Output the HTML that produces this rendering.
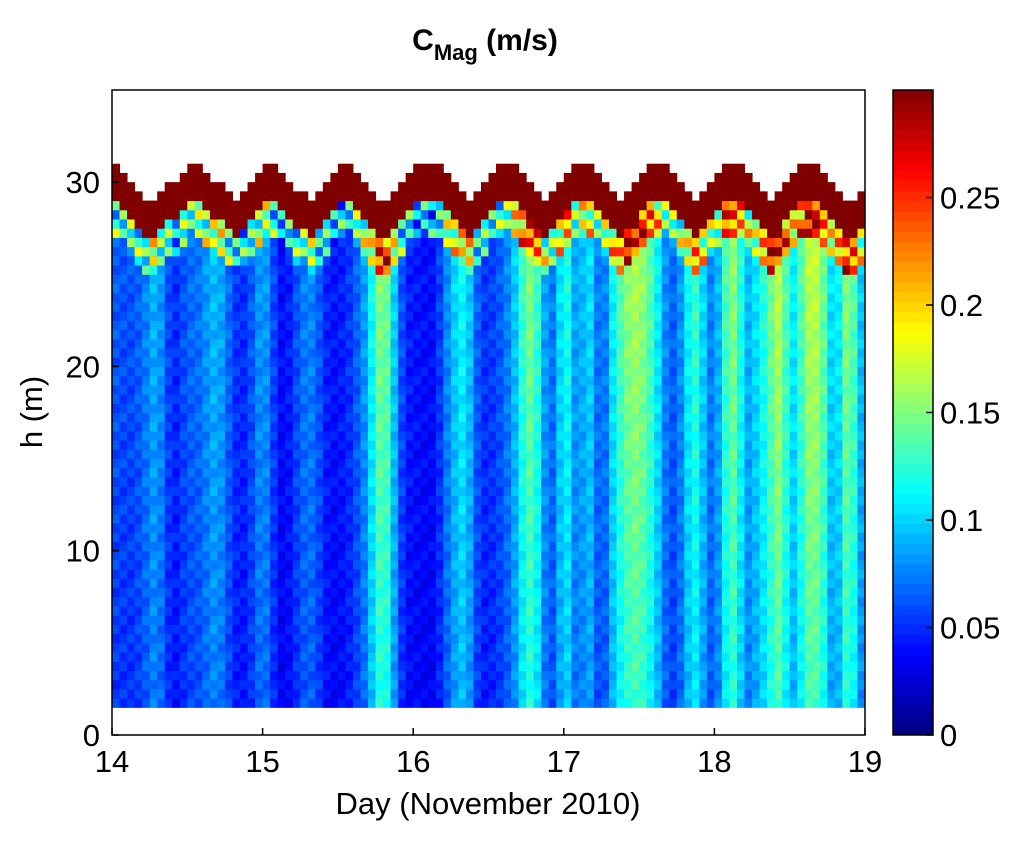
<!DOCTYPE html>
<html><head><meta charset="utf-8"><style>
body{margin:0;background:#fff;}
text{font-family:"Liberation Sans",sans-serif;}
</style></head><body>
<svg id="chart" width="1024" height="837" xmlns="http://www.w3.org/2000/svg">
<rect width="1024" height="837" fill="#fff"/>
<g id="heat"></g>
<rect x="112" y="90" width="753" height="645" fill="none" stroke="#000" stroke-width="1.5"/>
<g id="axes"></g>
<g id="cbar"></g>
<text x="485" y="50" font-size="30" font-weight="bold" text-anchor="middle">C<tspan font-size="22" dy="10">Mag</tspan><tspan dy="-10"> (m/s)</tspan></text>
<text x="488" y="814" font-size="31" text-anchor="middle">Day (November 2010)</text>
<text x="42" y="412" font-size="31" text-anchor="middle" transform="rotate(-90 42 412)">h (m)</text>
</svg>
<script>
const colValues=[.05,.05,.04,.06,.05,.09,.07,.04,.03,.05,
.06,.05,.07,.08,.08,.05,.04,.03,.05,.07,
.08,.04,.02,.03,.05,.06,.07,.05,.03,.03,
.03,.04,.05,.07,.09,.15,.14,.08,.04,.03,
.03,.03,.02,.04,.07,.08,.11,.09,.04,.04,
.04,.05,.06,.08,.11,.15,.12,.06,.05,.08,
.15,.03,.08,.12,.03,.06,.1,.12,.14,.15,
.14,.12,.1,.06,.04,.07,.09,.14,.08,.05,
.07,.12,.16,.1,.06,.09,.12,.1,.2,.1,
.08,.12,.16,.15,.14,.08,.06,.18,.12,.07];
const surface=[30.8,30.4,30,29.6,29.2,29,29.4,29.8,30.2,30.7,
31.2,31,30.6,30.2,29.8,29.4,29,29.4,29.8,30.3,
30.8,31.2,30.7,30.2,29.7,29.3,29,29.6,30.2,30.7,
31.2,31,30.5,30,29.5,29.2,29,29.4,29.9,30.4,
30.8,31.1,31.2,30.8,30.3,29.8,29.3,29,29.5,30.1,
30.6,31,31.2,30.8,30.3,29.8,29.3,29,29.5,30,
30.5,31,31.2,30.8,30.3,29.8,29.3,29,29.5,30,
30.5,31,31.2,30.8,30.3,29.8,29.3,29,29.5,30,
30.5,31,31.2,30.8,30.3,29.8,29.3,29,29.4,29.9,
30.4,30.8,31.2,31,30.6,30.1,29.6,29.2,29,29.4];
const xTicks=[14,15,16,17,18,19];
const yTicks=[0,10,20,30];
const cTicks=[0,0.05,0.1,0.15,0.2,0.25];
const NS='http://www.w3.org/2000/svg';
const X=d=>112+(d-14)*(753/5);
const Y=h=>735-h*(645/35);
const C=v=>735-v/0.3*645;
function jet(v){let t=Math.max(0,Math.min(1,v/0.3));
 const f=x=>Math.max(0,Math.min(1,1.5-Math.abs(4*t-x)));
 return `rgb(${Math.round(255*f(3))},${Math.round(255*f(2))},${Math.round(255*f(1))})`;}
function mk(tag,attrs,parent){const e=document.createElementNS(NS,tag);for(const k in attrs)e.setAttribute(k,attrs[k]);parent.appendChild(e);return e;}
const heat=document.getElementById('heat');
const dt=0.05,dh=0.5;
for(let i=0;i<colValues.length;i++){
 const t0=14+i*dt,x0=X(t0),w=X(t0+dt)-x0+0.5;
 const top=Math.round(surface[i]*2)/2;
 const prev=colValues[Math.max(0,i-1)],next=colValues[Math.min(colValues.length-1,i+1)];
 for(let h=1.5;h<top;h+=dh){
  const d=top-h;let v;
  const k=Math.round(h*2);
  const jit=((i*7+k*3)%5-2)*0.004;
  const base=(colValues[i]*2+prev+next)/4;
  if(d<=2) v=0.3;
  else if(d<=4) v=base*1.5+0.05+((i*5+k*11)%7-3)*0.02;
  else v=base*(0.8+0.3*h/30)+0.012+jit;
  const r=mk('rect',{x:x0,y:Y(h+dh),width:w,height:Y(h)-Y(h+dh)+0.5,fill:jet(v)},heat);
  
  
 }
}
const axes=document.getElementById('axes');
xTicks.forEach(t=>{
 const l=mk('line',{x1:X(t),x2:X(t),y1:735,y2:728,stroke:'#000','stroke-width':1.5},axes);
 
 
 const tx=mk('text',{x:X(t),y:772,'font-size':31,'text-anchor':'middle'},axes);tx.textContent=t;
 
 
});
yTicks.forEach(t=>{
 const l=mk('line',{x1:112,x2:119,y1:Y(t),y2:Y(t),stroke:'#000','stroke-width':1.5},axes);
 
 
 const tx=mk('text',{x:100,y:Y(t)+11,'font-size':31,'text-anchor':'end'},axes);tx.textContent=t;
 
 
});
const cb=document.getElementById('cbar');
for(let k=0;k<64;k++){const v0=k*0.3/64,v1=(k+1)*0.3/64;
 const r=mk('rect',{x:893,y:C(v1),width:40,height:C(v0)-C(v1)+0.5,fill:jet(v0+0.15/64)},cb);
 
 }
mk('rect',{x:893,y:90,width:40,height:645,fill:'none',stroke:'#000','stroke-width':1.5},cb);
cTicks.forEach(t=>{
 const l=mk('line',{x1:926,x2:933,y1:C(t),y2:C(t),stroke:'#000','stroke-width':1.5},cb);
 
 
 const tx=mk('text',{x:940,y:C(t)+11,'font-size':31},cb);tx.textContent=t;
 
 
});
</script>
</body></html>
